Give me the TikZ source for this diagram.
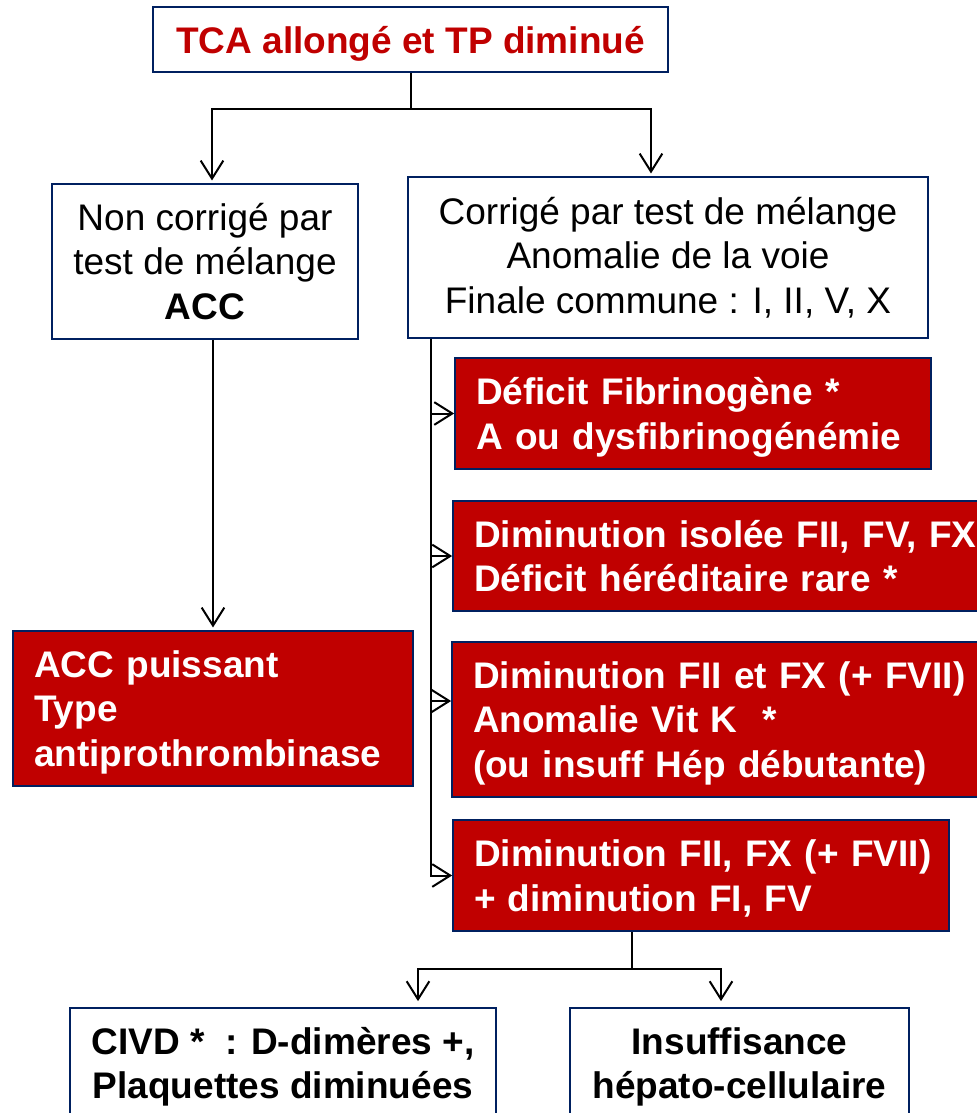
\documentclass[tikz,border=0pt]{standalone}
\usepackage{fontspec}
\setmainfont{Liberation Sans}
\usetikzlibrary{arrows.meta}
\definecolor{navyline}{RGB}{0,32,96}
\definecolor{boxred}{RGB}{192,0,0}
\newcommand{\nodesc}[1]{\raisebox{0pt}[\height][0pt]{#1}}
\begin{document}
\begin{tikzpicture}[x=0.75pt, y=-0.75pt,
  every node/.style={font=\fontsize{27.75pt}{33.4pt}\selectfont},
  whitebox/.style={draw=navyline, line width=1.3pt, fill=white, align=center, inner sep=0pt},
  boldbox/.style={whitebox, font=\fontsize{27.75pt}{33.4pt}\selectfont\bfseries},
  redbox/.style={draw=navyline, line width=1.3pt, fill=boxred, text=white, font=\fontsize{27.75pt}{33.4pt}\selectfont\bfseries, align=left, inner xsep=15.75pt, inner ysep=0pt},
  link/.style={draw=black, line width=1.5pt},
  arr/.style={link, -{Straight Barb[length=13.5pt, width=17pt, line width=1.5pt]}, shorten >=2pt}]
\useasboundingbox (0,0) rectangle (977,1113);
\clip (0,0) rectangle (977,1113);
\node [boldbox, minimum width=386.25pt, minimum height=48.75pt, text=boxred] (title) at (410.5,39.5) {\nodesc{TCA allongé et TP diminué}};
\node [whitebox, minimum width=229.5pt, minimum height=116.25pt] (noncorr) at (205,261.5) {Non corrigé par\\test de mélange\\\textbf{ACC}};
\node [whitebox, minimum width=390pt, minimum height=120.75pt] (corr) at (668,257.5) {Corrigé par test de mélange\\Anomalie de la voie\\Finale commune : I, II, V, X};
\node [redbox, text width=268.5pt, minimum height=116.25pt] (accp) at (213,708.5) {ACC puissant\\Type\\\nodesc{antiprothrombinase}};
\node [redbox, text width=325.5pt, minimum height=83.25pt] (def1) at (693,413.5) {Déficit Fibrinogène *\\\nodesc{A ou dysfibrinogénémie}};
\node [redbox, text width=393.75pt, minimum height=82.5pt] (def2) at (736.5,556) {Diminution isolée FII, FV, FX\\Déficit héréditaire rare *};
\node [redbox, text width=394.5pt, minimum height=116.25pt] (def3) at (736,719.5) {Diminution FII et FX (+ FVII)\\Anomalie Vit K \ *\\\nodesc{(ou insuff Hép débutante)}};
\node [redbox, text width=340.5pt, minimum height=83.25pt] (def4) at (701,875.5) {\mbox{Diminution FII, FX (+ FVII)}\\\nodesc{+ diminution FI, FV}};
\node [boldbox, minimum width=319.5pt, minimum height=82.5pt] (civd) at (283,1063) {CIVD * \ : D-dimères +,\\\nodesc{Plaquettes diminuées}};
\node [boldbox, minimum width=254.25pt, minimum height=82.5pt] (insuf) at (739.5,1063) {Insuffisance\\\nodesc{hépato-cellulaire}};
\coordinate (split1) at ([yshift=-27pt]title.south);
\draw [link] (title.south) -- (split1);
\draw [arr] (split1) -| ([xshift=5.25pt]noncorr.north);
\draw [arr] (split1) -| ([xshift=-12.75pt]corr.north);
\draw [arr] (accp.north |- noncorr.south) -- (accp.north);
\coordinate (trunk) at ([xshift=18pt]corr.south west);
\draw [arr, shorten >=0pt] (trunk) |- (def1.west);
\draw [arr, shorten >=0pt] (trunk) |- (def2.west);
\draw [arr, shorten >=0pt] (trunk) |- ([yshift=13.875pt]def3.west);
\draw [arr, shorten >=0pt] (trunk) |- (def4.west);
\coordinate (split2) at ([xshift=-51.75pt, yshift=-27.75pt]def4.south);
\draw [link] ([xshift=-51.75pt]def4.south) -- (split2);
\draw [arr, shorten >=4.5pt] (split2) -| ([xshift=101.25pt]civd.north);
\draw [arr, shorten >=4.5pt] (split2) -| ([xshift=-13.875pt]insuf.north);
\end{tikzpicture}
\end{document}
